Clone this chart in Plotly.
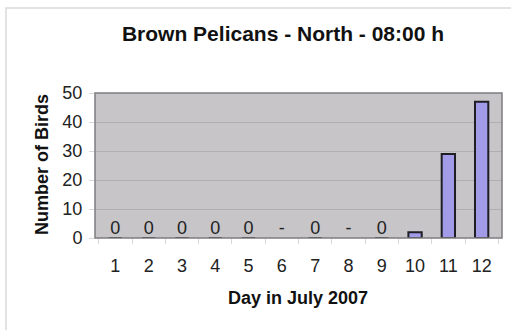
import plotly.graph_objects as go

# Daily counts of brown pelicans, north site, 08:00 h
days = ["1", "2", "3", "4", "5", "6", "7", "8", "9", "10", "11", "12"]
birds = [0, 0, 0, 0, 0, None, 0, None, 0, 2, 29, 47]
point_labels = ["0", "0", "0", "0", "0", "-", "0", "-", "0", "", "", ""]
y_ticks = [0, 10, 20, 30, 40, 50]

W, H = 511, 330
L, R, T, B = 95, 9, 93, 92  # plot area margins in px
font = "Liberation Sans, Arial, sans-serif"

fig = go.Figure()
fig.add_trace(go.Bar(
    x=days, y=birds,
    marker=dict(color="#A29BE8", line=dict(color="#1E1E24", width=2)),
    hoverinfo="skip", showlegend=False,
))
fig.add_trace(go.Scatter(
    x=days, y=[0] * len(days), mode="text", text=point_labels,
    textposition="top center",
    textfont=dict(family=font, size=18, color="#222"),
    hoverinfo="skip", showlegend=False,
))

pw = W - L - R
ph = H - T - B

def px_x(x):
    return (x - L) / pw

def px_y(y):
    return (H - B - y) / ph

fig.update_layout(
    width=W, height=H,
    margin=dict(l=L, r=R, t=T, b=B, pad=0),
    paper_bgcolor="white",
    plot_bgcolor="#C7C5C8",
    bargap=0.6,
    title=dict(text="<b>Brown Pelicans - North - 08:00 h</b>",
               x=283 / W, xanchor="center",
               y=1 - 34 / H, yanchor="middle", xref="container", yref="container",
               font=dict(family=font, size=21, color="#111")),
    xaxis=dict(
        type="category", showgrid=False, ticks="outside", tickson="boundaries",
        ticklen=5, tickcolor="#D8D8D8", showline=False, ticklabelstandoff=15,
        tickfont=dict(family=font, size=18, color="#222"),
    ),
    yaxis=dict(
        range=[0, 50], tickvals=y_ticks, showgrid=True, gridcolor="#B0AEB1",
        gridwidth=1, ticks="outside", ticklen=5, tickcolor="#D8D8D8",
        zeroline=False, showline=False, ticklabelstandoff=3,
        tickfont=dict(family=font, size=18, color="#222"),
    ),
    shapes=[
        # outer chart frame
        dict(type="rect", xref="paper", yref="paper",
             x0=px_x(6), x1=px_x(530), y0=px_y(345), y1=px_y(8),
             line=dict(color="#DADADA", width=1.5), fillcolor="rgba(0,0,0,0)",
             layer="below"),
        # plot area border
        dict(type="rect", xref="paper", yref="paper", x0=0, x1=1, y0=0, y1=1,
             line=dict(color="#7E7C80", width=1.5)),
    ],
    annotations=[
        dict(text="<b>Number of Birds</b>", xref="paper", yref="paper",
             x=px_x(42), y=px_y(165), xanchor="center", yanchor="middle",
             textangle=-90, showarrow=False,
             font=dict(family=font, size=18, color="#111")),
        dict(text="<b>Day in July 2007</b>", xref="paper", yref="paper",
             x=px_x(298), y=px_y(298), xanchor="center", yanchor="middle",
             showarrow=False, font=dict(family=font, size=18, color="#111")),
    ],
)

fig.write_html("out.html")
